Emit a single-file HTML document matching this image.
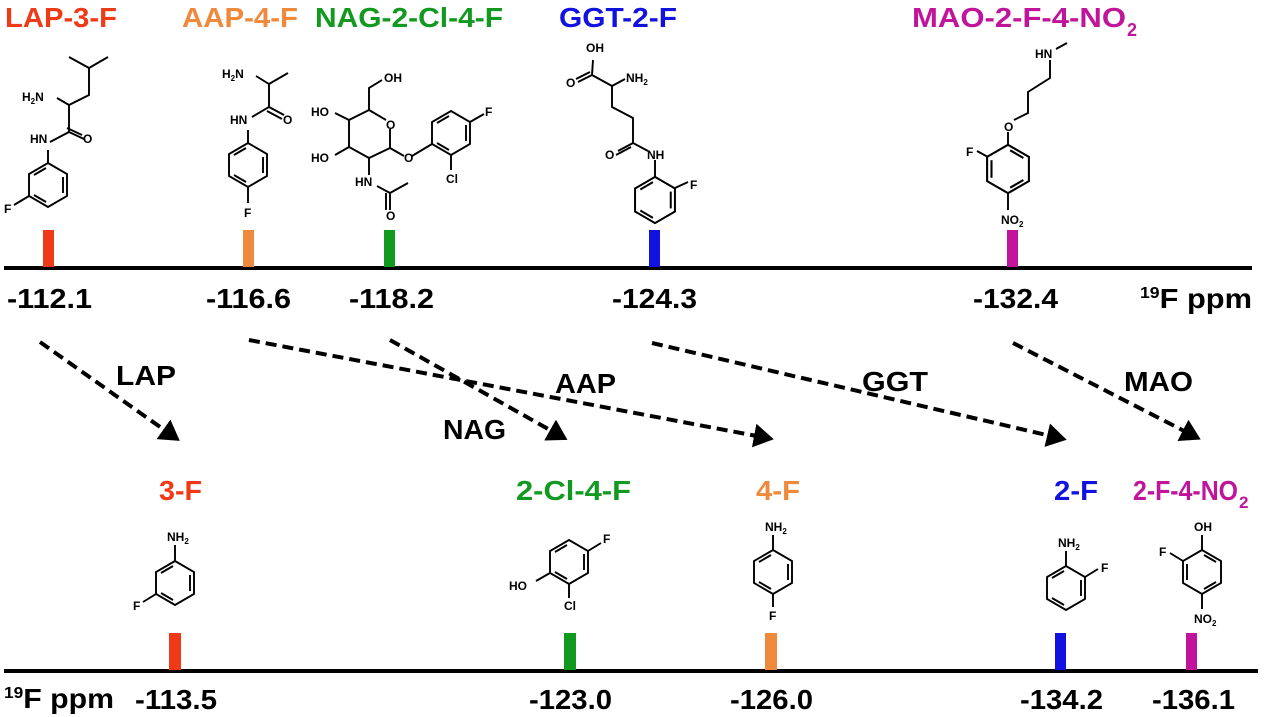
<!DOCTYPE html>
<html><head><meta charset="utf-8"><style>
html,body{margin:0;padding:0;background:#fff;}
svg{display:block;}
text{font-family:"Liberation Sans",Arial,sans-serif;}
.t{font-weight:bold;font-size:28px;}
.n{font-weight:bold;font-size:28px;fill:#000;}
.a{font-size:12px;fill:#000;font-weight:600;}
.b{stroke:#000;stroke-width:1.9;fill:none;}
.d{stroke:#000;stroke-width:4;stroke-dasharray:11 6;fill:none;}
</style></head><body>
<svg width="1268" height="717" viewBox="0 0 1268 717" xmlns="http://www.w3.org/2000/svg">
<defs>
<g id="hx">
<polygon points="0,-22 19,-11 19,11 0,22 -19,11 -19,-11" fill="none" stroke="#000" stroke-width="1.9"/>
<line x1="15" y1="-8" x2="15" y2="8" stroke="#000" stroke-width="1.9"/>
<line x1="-2" y1="17" x2="-14" y2="10" stroke="#000" stroke-width="1.9"/>
<line x1="-14" y1="-10" x2="-2" y2="-17" stroke="#000" stroke-width="1.9"/>
</g>
<marker id="ah" markerWidth="6" markerHeight="6" refX="2" refY="3" orient="auto" markerUnits="strokeWidth">
<path d="M0,0 L5,3 L0,6 z" fill="#000"/>
</marker>
</defs>

<text class="t" x="5" y="27" fill="#f03a17" textLength="112" lengthAdjust="spacingAndGlyphs">LAP-3-F</text>
<text class="t" x="182" y="27" fill="#ef8a3c" textLength="116" lengthAdjust="spacingAndGlyphs">AAP-4-F</text>
<text class="t" x="315" y="27" fill="#129a20" textLength="188" lengthAdjust="spacingAndGlyphs">NAG-2-Cl-4-F</text>
<text class="t" x="559" y="27" fill="#1212e0" textLength="118" lengthAdjust="spacingAndGlyphs">GGT-2-F</text>
<text class="t" x="912" y="27" fill="#c0149a" textLength="214" lengthAdjust="spacingAndGlyphs">MAO-2-F-4-NO</text>
<text x="1127" y="36" font-size="18" font-weight="bold" fill="#c0149a">2</text>

<line x1="4" y1="268" x2="1252" y2="268" stroke="#000" stroke-width="4"/>
<rect x="43" y="230" width="11" height="37" fill="#f03a17"/>
<rect x="243" y="230" width="11" height="37" fill="#ef8a3c"/>
<rect x="384" y="230" width="11" height="37" fill="#129a20"/>
<rect x="649" y="230" width="11" height="37" fill="#1212e0"/>
<rect x="1007" y="230" width="11" height="37" fill="#c0149a"/>

<text class="n" x="7" y="308" textLength="85" lengthAdjust="spacingAndGlyphs">-112.1</text>
<text class="n" x="206" y="308" textLength="85" lengthAdjust="spacingAndGlyphs">-116.6</text>
<text class="n" x="349" y="308" textLength="85" lengthAdjust="spacingAndGlyphs">-118.2</text>
<text class="n" x="612" y="308" textLength="85" lengthAdjust="spacingAndGlyphs">-124.3</text>
<text class="n" x="973" y="308" textLength="85" lengthAdjust="spacingAndGlyphs">-132.4</text>
<text class="n" x="1140" y="308" textLength="112" lengthAdjust="spacingAndGlyphs"><tspan font-size="16" dy="-10">19</tspan><tspan dy="10">F ppm</tspan></text>

<line x1="4" y1="671" x2="1258" y2="671" stroke="#000" stroke-width="4"/>
<rect x="169" y="633" width="12" height="37" fill="#f03a17"/>
<rect x="564" y="633" width="12" height="37" fill="#129a20"/>
<rect x="765" y="633" width="12" height="37" fill="#ef8a3c"/>
<rect x="1055" y="633" width="11" height="37" fill="#1212e0"/>
<rect x="1186" y="633" width="11" height="37" fill="#c0149a"/>

<text class="n" x="4" y="708" textLength="110" lengthAdjust="spacingAndGlyphs"><tspan font-size="16" dy="-10">19</tspan><tspan dy="10">F ppm</tspan></text>
<text class="n" x="135" y="709" textLength="82" lengthAdjust="spacingAndGlyphs">-113.5</text>
<text class="n" x="529" y="709" textLength="83" lengthAdjust="spacingAndGlyphs">-123.0</text>
<text class="n" x="730" y="709" textLength="83" lengthAdjust="spacingAndGlyphs">-126.0</text>
<text class="n" x="1020" y="709" textLength="83" lengthAdjust="spacingAndGlyphs">-134.2</text>
<text class="n" x="1152" y="709" textLength="83" lengthAdjust="spacingAndGlyphs">-136.1</text>

<text class="t" x="159" y="500" fill="#f03a17" textLength="43" lengthAdjust="spacingAndGlyphs">3-F</text>
<text class="t" x="516" y="500" fill="#129a20" textLength="115" lengthAdjust="spacingAndGlyphs">2-Cl-4-F</text>
<text class="t" x="756" y="500" fill="#ef8a3c" textLength="44" lengthAdjust="spacingAndGlyphs">4-F</text>
<text class="t" x="1054" y="500" fill="#1212e0" textLength="44" lengthAdjust="spacingAndGlyphs">2-F</text>
<text class="t" x="1133" y="500" fill="#c0149a" textLength="105" lengthAdjust="spacingAndGlyphs">2-F-4-NO</text>
<text x="1239" y="508" font-size="17" font-weight="bold" fill="#c0149a">2</text>

<line class="d" x1="40" y1="342" x2="170" y2="434" marker-end="url(#ah)"/>
<line class="d" x1="249" y1="340" x2="762" y2="437" marker-end="url(#ah)"/>
<line class="d" x1="390" y1="340" x2="557" y2="434" marker-end="url(#ah)"/>
<line class="d" x1="652" y1="343" x2="1055" y2="437" marker-end="url(#ah)"/>
<line class="d" x1="1013" y1="343" x2="1190" y2="434" marker-end="url(#ah)"/>
<text class="n" x="116" y="385" textLength="60" lengthAdjust="spacingAndGlyphs">LAP</text>
<text class="n" x="443" y="439" textLength="63" lengthAdjust="spacingAndGlyphs">NAG</text>
<text class="n" x="555" y="393" textLength="61" lengthAdjust="spacingAndGlyphs">AAP</text>
<text class="n" x="862" y="391" textLength="66" lengthAdjust="spacingAndGlyphs">GGT</text>
<text class="n" x="1124" y="391" textLength="69" lengthAdjust="spacingAndGlyphs">MAO</text>

<path class="b" d="M69,57 L89,68 L108,57 M89,68 L89,95 L69,105 L69,132 L50,142 M48,150 L48,163 M69,132 L84,139 M67,128 L82,135 M69,105 L57,98"/>
<text class="a" x="22" y="101">H<tspan font-size="8" dy="3">2</tspan><tspan dy="-3">N</tspan></text>
<text class="a" x="30" y="143">HN</text>
<text class="a" x="83" y="143">O</text>
<use href="#hx" x="48" y="185"/>
<path class="b" d="M29,196 L14,205"/>
<text class="a" x="4" y="213">F</text>

<path class="b" d="M256,76 L269,84 L288,73 M269,84 L269,107 L252,117 M269,107 L284,115 M267,111 L282,119 M248,130 L248,143"/>
<text class="a" x="222" y="78">H<tspan font-size="8" dy="3">2</tspan><tspan dy="-3">N</tspan></text>
<text class="a" x="230" y="124">HN</text>
<text class="a" x="283" y="124">O</text>
<use href="#hx" x="248" y="165"/>
<path class="b" d="M248,187 L248,203"/>
<text class="a" x="244" y="217">F</text>

<path class="b" d="M369,110 L386,120 M390,129 L390,148 L369,158 L349,147 L349,120 L369,110 M369,110 L369,88 L382,80 M349,120 L335,113 M349,147 L335,155 M390,148 L404,156 M412,156 L432,144 M369,158 L369,175 M377,186 L390,193 L408,183 M390,193 L390,210 M386,193 L386,210"/>
<text class="a" x="384" y="82">OH</text>
<text class="a" x="386" y="129">O</text>
<text class="a" x="311" y="116">HO</text>
<text class="a" x="311" y="162">HO</text>
<text class="a" x="404" y="162">O</text>
<text class="a" x="355" y="186">HN</text>
<text class="a" x="386" y="220">O</text>
<use href="#hx" x="451" y="133"/>
<path class="b" d="M470,122 L484,114 M451,155 L451,170"/>
<text class="a" x="485" y="116">F</text>
<text class="a" x="446" y="183">Cl</text>

<path class="b" d="M593,60 L592,75 L578,82 M590,72 L576,79 M592,75 L612,86 L625,79 M612,86 L612,107 L633,118 L633,143 L618,151 M631,147 L616,155 M633,143 L648,151 M655,160 L655,177 M675,188 L688,182"/>
<text class="a" x="586" y="52">OH</text>
<text class="a" x="566" y="87">O</text>
<text class="a" x="626" y="82">NH<tspan font-size="8" dy="3">2</tspan></text>
<text class="a" x="605" y="159">O</text>
<text class="a" x="647" y="159">NH</text>
<text class="a" x="690" y="189">F</text>
<use href="#hx" x="655" y="200" transform="translate(655,200) scale(1.05) translate(-655,-200)"/>

<path class="b" d="M1056,49 L1067,43 M1050,60 L1050,78 L1028,92 L1028,113 L1014,120 M1008,132 L1008,145 M988,157 L977,151 M1008,193 L1008,210"/>
<text class="a" x="1035" y="58">HN</text>
<text class="a" x="1004" y="131">O</text>
<text class="a" x="966" y="156">F</text>
<text class="a" x="1001" y="224">NO<tspan font-size="8" dy="3">2</tspan></text>
<g transform="translate(1008,169) scale(1.1) scale(-1,1)"><use href="#hx"/></g>

<use href="#hx" x="175" y="583"/>
<path class="b" d="M175,561 L175,545 M156,594 L143,602"/>
<text class="a" x="167" y="541">NH<tspan font-size="8" dy="3">2</tspan></text>
<text class="a" x="133" y="610">F</text>

<use href="#hx" x="569" y="562"/>
<path class="b" d="M588,551 L601,543 M550,573 L536,581 M569,584 L569,598"/>
<text class="a" x="603" y="543">F</text>
<text class="a" x="509" y="590">HO</text>
<text class="a" x="564" y="610">Cl</text>

<use href="#hx" x="773" y="572"/>
<path class="b" d="M773,550 L773,535 M773,594 L773,607"/>
<text class="a" x="765" y="531">NH<tspan font-size="8" dy="3">2</tspan></text>
<text class="a" x="769" y="620">F</text>

<use href="#hx" x="1066" y="588"/>
<path class="b" d="M1066,566 L1066,551 M1085,577 L1098,569"/>
<text class="a" x="1058" y="547">NH<tspan font-size="8" dy="3">2</tspan></text>
<text class="a" x="1101" y="572">F</text>

<g transform="translate(1202,572) scale(-1,1)"><use href="#hx"/></g>
<path class="b" d="M1202,550 L1202,535 M1183,561 L1170,553 M1202,594 L1202,609"/>
<text class="a" x="1194" y="531">OH</text>
<text class="a" x="1159" y="556">F</text>
<text class="a" x="1194" y="623">NO<tspan font-size="8" dy="3">2</tspan></text>
</svg>
</body></html>
